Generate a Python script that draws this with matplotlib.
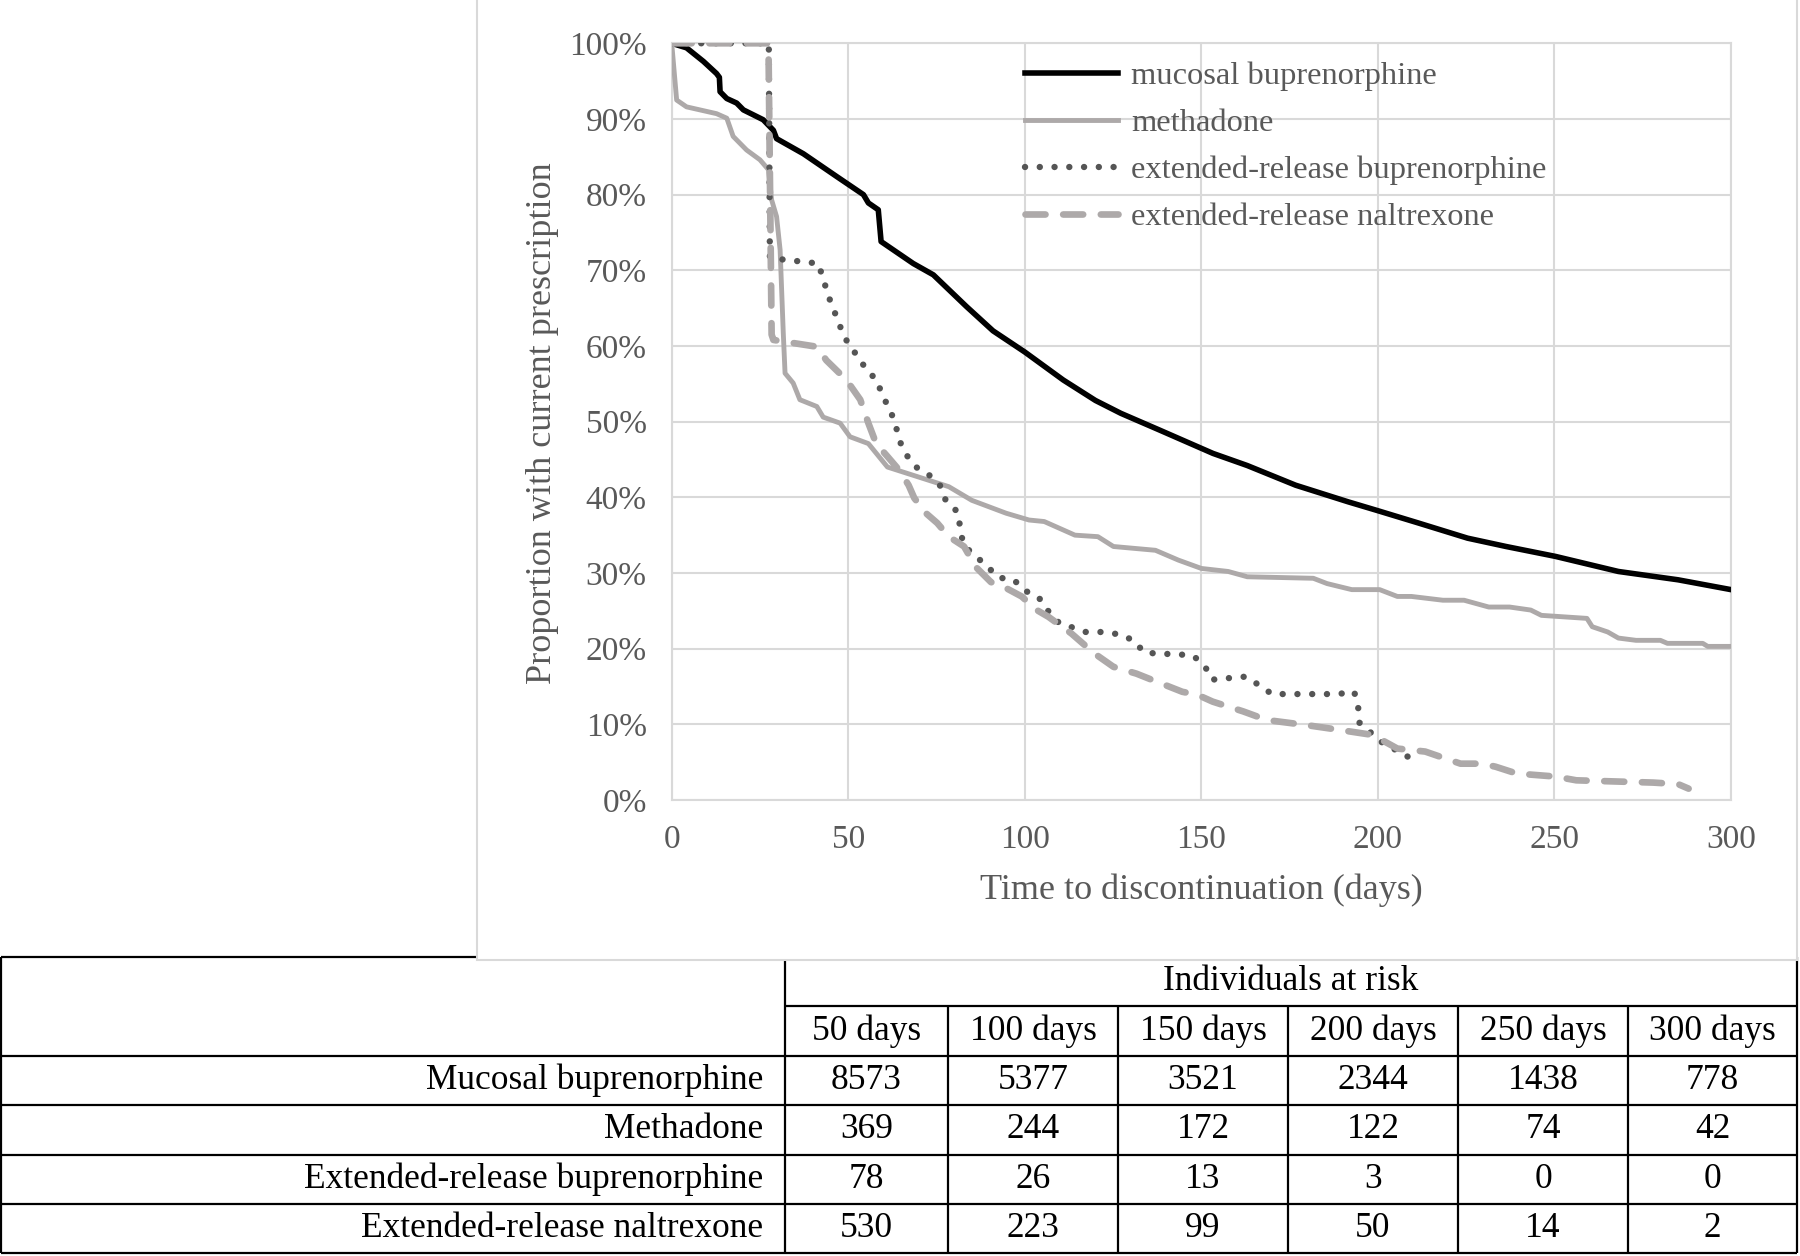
import matplotlib
matplotlib.use("Agg")
import matplotlib.pyplot as plt
from matplotlib.patches import Rectangle
from matplotlib.ticker import FuncFormatter

plt.rcParams["font.family"] = ["Liberation Serif", "DejaVu Serif"]

# ── Survival curves (days, % still on prescription) ──
mucosal_days = [0, 4.2, 9.0, 12.7, 13.5, 13.7, 15.6, 18.4, 20.3, 25.9, 28.8, 29.7, 37.3,
                46.7, 54.3, 55.7, 58.5, 59.3, 68.4, 74.1, 83.5, 91, 100, 110.9, 120,
                127.2, 138.1, 153.3, 163, 176.7, 191.6, 199.5, 211.5, 225.4, 236.3,
                250.2, 268.1, 285, 300]
mucosal_pct = [100, 99.4, 97.6, 96.0, 95.5, 93.6, 92.7, 92.1, 91.2, 89.9, 88.5, 87.4, 85.4,
               82.4, 80.0, 78.9, 78.0, 73.8, 70.9, 69.4, 65.2, 62.0, 59.2, 55.5, 52.8,
               51.1, 48.9, 45.8, 44.2, 41.6, 39.4, 38.3, 36.6, 34.6, 33.5,
               32.2, 30.2, 29.1, 27.8]

meth_days = [0, 1.4, 4.2, 12.7, 15.6, 17.4, 21.2, 25, 27.4, 28.3, 29.7, 30.7, 31.6, 32.1,
             34.4, 36.3, 41.1, 42.9, 47.7, 50.5, 55.7, 61.1, 69.8, 78.5, 85.0, 94.7,
             101.2, 105.5, 114.2, 120.7, 125.1, 137.0, 143.5, 150.0, 157.6, 163.0,
             181.7, 185.6, 192.6, 200.5, 205.5, 209.5, 218.4, 224.4, 231.4, 237.3,
             243.3, 246.3, 259.2, 260.7, 265.1, 268.1, 273.1, 280, 282, 292, 293.4, 300]
meth_pct = [100, 92.5, 91.6, 90.7, 90.1, 87.7, 85.9, 84.6, 83.3, 79.3, 77.1, 72.7, 61.7, 56.4,
            55.1, 52.9, 52.0, 50.6, 49.8, 48.0, 47.1, 44.0, 42.7, 41.4, 39.6, 37.9,
            37.0, 36.8, 35.0, 34.8, 33.5, 33.0, 31.7, 30.6, 30.2, 29.5,
            29.3, 28.6, 27.8, 27.8, 26.9, 26.9, 26.4, 26.4, 25.5, 25.5,
            25.1, 24.4, 24.0, 22.9, 22.2, 21.4, 21.1, 21.1, 20.7, 20.7, 20.3, 20.3]

erbup_days = [0, 27.5, 27.8, 32.1, 41.5, 42.9, 44.3, 47.2, 48.6, 50.5, 52.8, 55.2, 58.1,
              59.7, 61.6, 63.3, 64.4, 66.3, 69.2, 73.0, 76.1, 77.6, 81.1, 81.7, 82.6,
              85.6, 89.1, 92.5, 96.9, 99.9, 103.9, 106.4, 109.7, 117.3, 121.8, 126.7,
              130.8, 133.8, 138.6, 143, 147.9, 151.1, 153.0, 157.6, 162.5, 166.3, 170,
              174.7, 188.6, 193.3, 194.4, 194.8, 201.7, 206.0, 210]
erbup_pct = [100, 100, 71.6, 71.4, 70.9, 68.9, 66.7, 63.2, 61.5, 59.9, 58.6, 56.8, 55.5,
             53.4, 51.8, 49.8, 47.6, 45.7, 44.0, 42.9, 41.5, 39.6, 38.0, 35.9, 33.7,
             32.4, 31.0, 29.4, 29.1, 27.7, 26.8, 25.1, 23.4, 22.2, 22.2, 21.9,
             21.1, 19.5, 19.3, 19.3, 19.0, 17.6, 15.9, 16.1, 16.3, 15.2, 14.0,
             14.0, 14.0, 14.3, 12.3, 10.2, 7.4, 6.4, 5.3]

ernal_days = [0, 27.4, 28.3, 28.8, 41.1, 43.8, 49.5, 53.4, 55.7, 57.9, 61.1, 64.4, 67.1,
              68.7, 72.0, 75.2, 78.5, 82.8, 86.1, 90.4, 94.7, 99.1, 103.4, 106.7, 113.2,
              119.6, 125.1, 131.6, 135.9, 144.6, 148.9, 153.2, 161.9, 166.6, 169.7,
              179.7, 188.6, 198.5, 205.5, 213.4, 223.4, 229.4, 233.3, 239.3, 250.2,
              256.2, 278, 285, 288]
ernal_pct = [100, 100, 61.5, 60.8, 59.9, 58.1, 55.5, 52.9, 49.8, 47.1, 45.4, 43.6, 41.6,
             39.9, 37.9, 36.6, 34.8, 33.5, 30.8, 28.8, 28.0, 26.9, 25.1, 24.2, 22.0,
             19.4, 17.6, 16.7, 15.9, 14.3, 13.9, 13.0, 11.7, 10.9, 10.5,
             9.9, 9.3, 8.6, 6.8, 6.4, 4.8, 4.8, 4.4, 3.5, 3.1,
             2.6, 2.3, 2.1, 1.5]

series_labels = ["mucosal buprenorphine", "methadone",
                 "extended-release buprenorphine", "extended-release naltrexone"]

# ── Numbers-at-risk table ──
risk_cols = ["50 days", "100 days", "150 days", "200 days", "250 days", "300 days"]
risk_rows = ["Mucosal buprenorphine", "Methadone",
             "Extended-release buprenorphine", "Extended-release naltrexone"]
risk_mucosal = [8573, 5377, 3521, 2344, 1438, 778]
risk_meth = [369, 244, 172, 122, 74, 42]
risk_erbup = [78, 26, 13, 3, 0, 0]
risk_ernal = [530, 223, 99, 50, 14, 2]

GREY_TXT = "#595959"
GRID = "#D9D9D9"
LIGHT = "#ADA9A9"

W, H = 1800, 1256
fig = plt.figure(figsize=(W / 100, H / 100), dpi=100)
fig.patch.set_facecolor("white")

# background layer in pixel coordinates: table + chart frame
bg = fig.add_axes([0, 0, 1, 1])
bg.set_xlim(0, W)
bg.set_ylim(H, 0)
bg.axis("off")

col_edges = [1, 785, 948, 1118, 1288, 1458, 1628, 1797]
row_edges = [957, 1006, 1056, 1105, 1155, 1204, 1253]
lk = dict(color="black", lw=1.6, zorder=2, solid_capstyle="butt")

bg.plot([col_edges[0], col_edges[-1]], [row_edges[0]] * 2, **lk)
bg.plot([col_edges[1], col_edges[-1]], [row_edges[1]] * 2, **lk)
for y in row_edges[2:]:
    bg.plot([col_edges[0], col_edges[-1]], [y, y], **lk)
bg.plot([col_edges[0]] * 2, [row_edges[0], row_edges[-1]], **lk)
bg.plot([col_edges[1]] * 2, [row_edges[0], row_edges[-1]], **lk)
bg.plot([col_edges[-1]] * 2, [row_edges[0], row_edges[-1]], **lk)
for x in col_edges[2:-1]:
    bg.plot([x, x], [row_edges[1], row_edges[-1]], **lk)

tfs = 25.5
bg.text((col_edges[1] + col_edges[-1]) / 2, (row_edges[0] + row_edges[1]) / 2,
        "Individuals at risk", ha="center", va="center", fontsize=tfs)
for j, c in enumerate(risk_cols):
    bg.text((col_edges[j + 1] + col_edges[j + 2]) / 2, (row_edges[1] + row_edges[2]) / 2,
            c, ha="center", va="center", fontsize=tfs)
for i, (name, vals) in enumerate(zip(risk_rows,
                                     [risk_mucosal, risk_meth, risk_erbup, risk_ernal])):
    yc = (row_edges[i + 2] + row_edges[i + 3]) / 2
    bg.text(col_edges[1] - 22, yc, name, ha="right", va="center", fontsize=tfs)
    for j, v in enumerate(vals):
        bg.text((col_edges[j + 1] + col_edges[j + 2]) / 2, yc, str(v),
                ha="center", va="center", fontsize=tfs)

# chart frame sits on top of the table's top rule
bg.add_patch(Rectangle((477, -2), 1320, 962, facecolor="white",
                       edgecolor=GRID, lw=1.5, zorder=3))

# ── Main chart ──
ax = fig.add_axes([0.37317, 0.36306, 0.58850, 0.60247])
ax.set_facecolor("none")

ax.plot(mucosal_days, mucosal_pct, color="black", lw=4.0,
        solid_joinstyle="round", label=series_labels[0], zorder=3)
ax.plot(meth_days, meth_pct, color=LIGHT, lw=3.5,
        solid_joinstyle="round", label=series_labels[1], zorder=3)
ax.plot(erbup_days, erbup_pct, color="#555555", lw=4.6, linestyle=(0, (0.01, 2.3)),
        dash_capstyle="round", label=series_labels[2], zorder=3)
ax.plot(ernal_days, ernal_pct, color=LIGHT, lw=4.8, linestyle=(0, (3.0, 2.65)),
        dash_capstyle="round", label=series_labels[3], zorder=3)

ax.set_xlim(0, 300)
ax.set_ylim(0, 100)
ax.set_xticks(range(0, 301, 50))
ax.set_yticks(range(0, 101, 10))
ax.yaxis.set_major_formatter(FuncFormatter(lambda v, p: f"{int(v)}%"))
ax.grid(True, color=GRID, lw=1.5)
ax.set_axisbelow(True)
for s in ax.spines.values():
    s.set_color(GRID)
    s.set_linewidth(1.5)
ax.tick_params(length=0, labelsize=24, labelcolor=GREY_TXT)
ax.tick_params(axis="x", pad=18)
ax.tick_params(axis="y", pad=18)

fig.text(0.6674, 0.2916, "Time to discontinuation (days)", ha="center", va="center",
         fontsize=26, color=GREY_TXT)
fig.text(0.3016, 0.6627, "Proportion with current prescription", ha="center",
         va="center", rotation=90, fontsize=26, color=GREY_TXT)

leg = ax.legend(loc="upper left", bbox_to_anchor=(0.5694, 0.951),
                bbox_transform=fig.transFigure, frameon=False, fontsize=23.4,
                handlelength=2.85, handletextpad=0.42, labelspacing=0.53,
                borderpad=0, borderaxespad=0)
for t in leg.get_texts():
    t.set_color(GREY_TXT)

fig.savefig("out.png", dpi=100)
